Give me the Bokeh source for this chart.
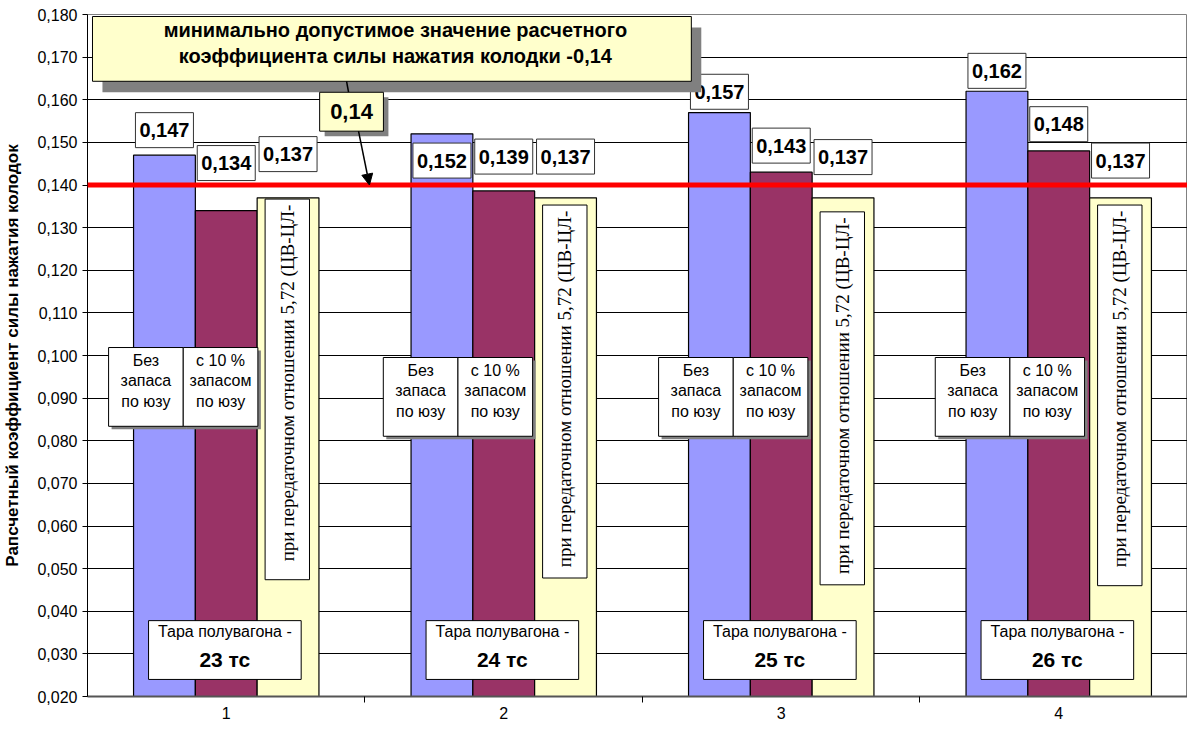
import numpy as np
from bokeh.plotting import figure
from bokeh.models import Range1d, FixedTicker, CustomJSTickFormatter, Span, Arrow, NormalHead
from bokeh.core.properties import value
from bokeh.embed import file_html
from bokeh.resources import INLINE

# ---------------- data ----------------
groups = [1, 2, 3, 4]
no_reserve = [0.147, 0.152, 0.157, 0.162]      # Без запаса по юзу
reserve10 = [0.134, 0.1386, 0.143, 0.148]      # с 10 % запасом по юзу
ratio572 = [0.137, 0.137, 0.137, 0.137]        # при передаточном отношении 5,72
tare = ["23 тс", "24 тс", "25 тс", "26 тс"]
threshold = 0.14
y_tick_values = [round(0.02 + 0.01 * i, 3) for i in range(17)]
x_tick_labels = ["1", "2", "3", "4"]

# label positions (layout)
lab_y_blue = [0.15287, 0.14573, 0.16187, 0.16678]
lab_y_maroon = [0.14515, 0.14667, 0.14924, 0.15427]
lab_y_yellow = [0.14725, 0.14667, 0.14655, 0.14573]
pair_left = [-0.424, -0.434, -0.442, -0.445]
pair_top = [0.10187, 0.09953, 0.09953, 0.09953]
vbox_top = [0.1367, 0.1353, 0.1337, 0.1353]
vbox_bottom = [0.0474, 0.0478, 0.0462, 0.0460]

SANS = "Liberation Sans"
SERIF = "Liberation Serif"
OFF = 0.2227
BW = 0.2227


def fmt(v, d=3):
    return f"{v:.{d}f}".replace(".", ",")


p = figure(width=1187, height=722, output_backend="svg", toolbar_location=None,
           x_range=Range1d(0.5, 4.464), y_range=Range1d(0.02, 0.18),
           min_border_left=83, min_border_right=0, min_border_top=14, min_border_bottom=26,
           background_fill_color="white", border_fill_color="white")

# axes
p.yaxis.ticker = FixedTicker(ticks=y_tick_values)
p.yaxis.formatter = CustomJSTickFormatter(code="return tick.toFixed(3).replace('.', ',');")
p.yaxis.major_label_text_font = SANS
p.yaxis.major_label_text_font_size = "16px"
p.yaxis.major_label_text_color = "black"
p.yaxis.axis_label = "Рапсчетный коэффициент силы нажатия колодок"
p.yaxis.axis_label_text_font = SANS
p.yaxis.axis_label_text_font_style = "bold"
p.yaxis.axis_label_text_font_size = "17px"
p.yaxis.axis_label_text_color = "black"
p.yaxis.axis_label_standoff = 12
p.yaxis.major_tick_out = 5
p.yaxis.major_tick_in = 0
p.yaxis.minor_tick_line_color = None
p.yaxis.axis_line_color = "black"
p.yaxis.major_tick_line_color = "black"

p.xaxis.ticker = FixedTicker(ticks=groups, minor_ticks=[1.5, 2.5, 3.5])
p.xaxis.major_label_overrides = {g: lab for g, lab in zip(groups, x_tick_labels)}
p.xaxis.major_label_text_font = SANS
p.xaxis.major_label_text_font_size = "16px"
p.xaxis.major_label_text_color = "black"
p.xaxis.major_label_standoff = 4
p.xaxis.major_tick_line_color = None
p.xaxis.minor_tick_out = 6
p.xaxis.minor_tick_in = 0
p.xaxis.minor_tick_line_color = "black"
p.xaxis.axis_line_color = "#555555"
p.xaxis.axis_line_width = 2

p.xgrid.grid_line_color = None
p.ygrid.grid_line_color = "black"
p.ygrid.grid_line_width = 1
p.outline_line_color = "#808080"

# bars
x_blue = [g - OFF for g in groups]
x_maroon = [g for g in groups]
x_yellow = [g + OFF for g in groups]
p.vbar(x=x_blue, top=no_reserve, bottom=0.02, width=BW, fill_color="#9999FF", line_color="black", line_width=1.2)
p.vbar(x=x_maroon, top=reserve10, bottom=0.02, width=BW, fill_color="#993366", line_color="black", line_width=1.2)
p.vbar(x=x_yellow, top=ratio572, bottom=0.02, width=BW, fill_color="#FFFFCC", line_color="black", line_width=1.2)

# vertical text boxes inside yellow bars
p.quad(left=[g + 0.14 for g in groups], right=[g + 0.30 for g in groups],
       top=vbox_top, bottom=vbox_bottom, fill_color="white", line_color="black", line_width=1)
p.text(x=[g + 0.22 for g in groups], y=[t - 0.0013 for t in vbox_top],
       text=["при передаточном отношении 5,72 (ЦВ-ЦЛ-"] * 4, angle=np.pi / 2,
       text_font=value(SERIF), text_font_size="19px", text_align="right",
       text_baseline="middle", text_color="black")

# "Без запаса" / "с 10 %" pairs
PAIR_W = 0.269
PAIR_H = 0.01848
SHX, SHY = 0.0108, 0.0007
for k in range(2):
    lefts = [g + pl + k * PAIR_W for g, pl in zip(groups, pair_left)]
    p.quad(left=[l + SHX for l in lefts], right=[l + PAIR_W + SHX for l in lefts],
           top=[t - SHY for t in pair_top], bottom=[t - PAIR_H - SHY for t in pair_top],
           fill_color="#808080", line_color=None)
for k in range(2):
    lefts = [g + pl + k * PAIR_W for g, pl in zip(groups, pair_left)]
    p.quad(left=lefts, right=[l + PAIR_W for l in lefts],
           top=pair_top, bottom=[t - PAIR_H for t in pair_top],
           fill_color="white", line_color="black", line_width=1)
pair_lines = [["Без", "запаса", "по юзу"], ["с 10 %", "запасом", "по юзу"]]
line_offs = [0.00304, 0.00772, 0.01263]
for k in range(2):
    cx = [g + pl + k * PAIR_W + PAIR_W / 2 for g, pl in zip(groups, pair_left)]
    for line, off in zip(pair_lines[k], line_offs):
        p.text(x=cx, y=[t - off for t in pair_top], text=[line] * 4,
               text_font=value(SANS), text_font_size="16px", text_align="center",
               text_baseline="middle", text_color="black")

# bottom boxes "Тара полувагона"
p.quad(left=[g - 0.28 for g in groups], right=[g + 0.27 for g in groups],
       top=0.0378, bottom=0.0240, fill_color="white", line_color="black", line_width=1)
p.text(x=[g - 0.005 for g in groups], y=[0.0352] * 4, text=["Тара полувагона -"] * 4,
       text_font=value(SANS), text_font_size="16px", text_align="center",
       text_baseline="middle", text_color="black")
p.text(x=[g - 0.005 for g in groups], y=[0.02866] * 4, text=tare,
       text_font=value(SANS), text_font_size="21px", text_font_style="bold",
       text_align="center", text_baseline="middle", text_color="black")

# value labels
for xs, vals, ly in [(x_blue, no_reserve, lab_y_blue), (x_maroon, reserve10, lab_y_maroon),
                     (x_yellow, ratio572, lab_y_yellow)]:
    p.rect(x=xs, y=ly, width=58, height=35, width_units="screen", height_units="screen",
           fill_color="white", line_color="#333333", line_width=1)
    p.text(x=xs, y=ly, text=[fmt(v) for v in vals], text_font=value(SANS),
           text_font_size="20px", text_font_style="bold", text_align="center",
           text_baseline="middle", text_color="black")

# threshold line
p.add_layout(Span(location=threshold, dimension="width", line_color="#FF0000", line_width=5))

# callout box
CL, CR, CT, CB = 0.518, 2.676, 0.17953, 0.16433
p.quad(left=[CL + 0.0359], right=[CR + 0.0359], top=[CT - 0.00257], bottom=[CB - 0.00257],
       fill_color="#808080", line_color=None)
p.quad(left=[CL], right=[CR], top=[CT], bottom=[CB], fill_color="#FFFFCC",
       line_color="black", line_width=1)
p.text(x=[1.6095, 1.6095], y=[0.17626, 0.17018],
       text=["минимально допустимое значение расчетного",
             "коэффициента силы нажатия колодки -" + fmt(threshold, 2)],
       text_font=value(SANS), text_font_size="20px", text_font_style="bold",
       text_align="center", text_baseline="middle", text_color="black")

# connector
p.segment(x0=[1.4336], y0=[CB], x1=[1.4408], y1=[0.16176], line_color="black", line_width=1.5)

# "0,14" box
BL, BR, BT, BB = 1.3366, 1.5664, 0.16175, 0.15263
p.quad(left=[BL + 0.018], right=[BR + 0.018], top=[BT - 0.00117], bottom=[BB - 0.00117],
       fill_color="#808080", line_color=None)
p.quad(left=[BL], right=[BR], top=[BT], bottom=[BB], fill_color="#FFFFCC",
       line_color="black", line_width=1)
p.text(x=[(BL + BR) / 2], y=[(BT + BB) / 2], text=[fmt(threshold, 2)],
       text_font=value(SANS), text_font_size="22px", text_font_style="bold",
       text_align="center", text_baseline="middle", text_color="black")

p.add_layout(Arrow(end=NormalHead(size=11, fill_color="black", line_color="black"),
                   x_start=1.4767, y_start=BB, x_end=1.516, y_end=threshold,
                   line_color="black", line_width=1.5))

open("out.html", "w").write(file_html(p, INLINE))
